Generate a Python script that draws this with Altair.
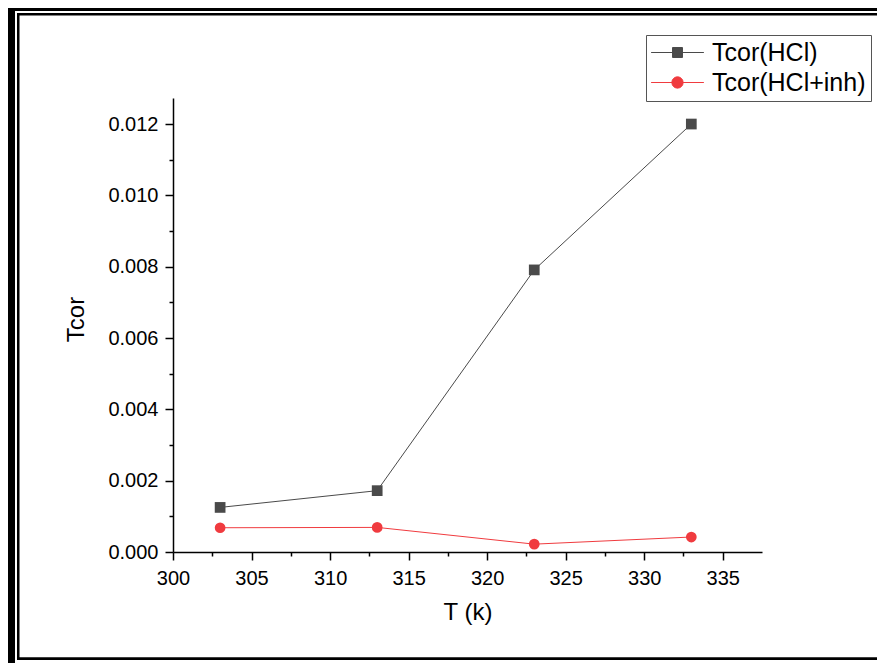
import altair as alt
import pandas as pd

# ---- data ----
temps = [303, 313, 323, 333]
tcor_hcl = [0.00125, 0.00172, 0.00791, 0.01200]
tcor_inh = [0.00068, 0.00069, 0.00022, 0.00042]
series_names = ["Tcor(HCl)", "Tcor(HCl+inh)"]
series_colors = ["#4a4a4a", "#f03b3f"]
series_shapes = ["square", "circle"]
x_tick_values = [300, 302.5, 305, 307.5, 310, 312.5, 315, 317.5, 320, 322.5,
                 325, 327.5, 330, 332.5, 335]
y_tick_values = [0.000, 0.001, 0.002, 0.003, 0.004, 0.005, 0.006, 0.007,
                 0.008, 0.009, 0.010, 0.011, 0.012]

rows = []
for t, v in zip(temps, tcor_hcl):
    rows.append({"T": t, "Tcor": v, "series": series_names[0]})
for t, v in zip(temps, tcor_inh):
    rows.append({"T": t, "Tcor": v, "series": series_names[1]})
df = pd.DataFrame(rows)

FONT = "Liberation Sans"

color_scale = alt.Scale(domain=series_names, range=series_colors)

# legend glyphs: a line through the marker (square / circle)
legend_paths = [
    "M-4.4,0H4.4M-0.83,-0.83H0.83V0.83H-0.83Z",
    "M-4.4,0H4.4M0.94,0A0.94,0.94,0,1,1,-0.94,0A0.94,0.94,0,1,1,0.94,0Z",
]
legend_shape_scale = alt.Scale(domain=series_names, range=legend_paths)

x_enc = alt.X(
    "T:Q",
    scale=alt.Scale(domain=[300, 337.5], nice=False, zero=False),
    axis=alt.Axis(
        values=x_tick_values,
        title="T (k)",
        labelExpr="datum.value % 5 === 0 ? format(datum.value, 'd') : ''",
        tickSize={"condition": {"test": "datum.value % 5 === 0", "value": 8}, "value": 4},
        labelPadding=8,
        labelFlush=False,
        labelOverlap=False,
        titleY=67,
        titleBaseline="alphabetic",
    ),
)
y_enc = alt.Y(
    "Tcor:Q",
    scale=alt.Scale(domain=[0, 0.01273], nice=False, zero=False),
    axis=alt.Axis(
        values=y_tick_values,
        title="Tcor",
        labelExpr="round(datum.value * 1000) % 2 === 0 ? format(datum.value, '.3f') : ''",
        tickSize={"condition": {"test": "round(datum.value * 1000) % 2 === 0", "value": 8}, "value": 4},
        labelPadding=7,
        labelFlush=False,
        labelOverlap=False,
        titleX=-90,
        titleY=221,
        titleBaseline="alphabetic",
    ),
)

legend = alt.Legend(
    title=None,
    orient="none",
    legendX=473,
    legendY=-63,
    labelFont=FONT,
    labelFontSize=25,
    labelColor="black",
    labelLimit=400,
    padding=5,
    strokeColor="#555555",
    fillColor="white",
    symbolSize=144,
    symbolOffset=14,
    symbolOpacity=1,
    symbolStrokeWidth=1,
    labelOffset=22,
    rowPadding=4,
)

base = alt.Chart(df)

# legend-only layer (draws nothing, carries the legend)
legend_layer = base.transform_filter("false").mark_point(
    filled=True, size=144, strokeWidth=1, opacity=1
).encode(
    x=x_enc, y=y_enc,
    color=alt.Color("series:N", scale=color_scale, legend=legend),
    stroke=alt.Stroke("series:N", scale=alt.Scale(domain=series_names, range=series_colors), legend=legend),
    shape=alt.Shape("series:N", scale=legend_shape_scale, legend=legend),
)

lines = base.mark_line(strokeWidth=1).encode(
    x=x_enc, y=y_enc,
    color=alt.Color("series:N", scale=color_scale),
)

point_layers = []
for name, shp in zip(series_names, series_shapes):
    point_layers.append(
        base.transform_filter(alt.datum.series == name)
        .mark_point(filled=True, size=115, opacity=1, shape=shp)
        .encode(
            x=x_enc, y=y_enc,
            color=alt.Color("series:N", scale=color_scale),
        )
    )


def frame_piece(x, x2, y, y2):
    return alt.Chart(alt.Data(values=[{}])).mark_rect(color="black").encode(
        x=alt.value(x), x2=alt.value(x2), y=alt.value(y), y2=alt.value(y2)
    )


frame = [
    frame_piece(-165, -158, -90, 565),   # thick left band
    frame_piece(-165, 704, -90, -87),    # thick top band
    frame_piece(-156, -153.5, -85, 562), # thin left line
    frame_piece(-156, 704, -85, -82.5),  # thin top line
    frame_piece(-156, 704, 559.3, 562),  # thin bottom line
]

chart = alt.layer(legend_layer, *frame, lines, *point_layers).properties(
    width=589,
    height=454,
    padding={"left": 165, "top": 90, "right": 115, "bottom": 111},
    autosize=alt.AutoSizeParams(type="none"),
    background="white",
).configure_view(stroke=None).configure_axis(
    grid=False,
    domainColor="black",
    domainWidth=1.5,
    tickColor="black",
    tickWidth=1.5,
    labelFont=FONT,
    labelFontSize=20,
    labelColor="black",
    titleFont=FONT,
    titleFontSize=24,
    titleFontWeight="normal",
    titleColor="black",
)

chart.save("out.html", embed_options={"renderer": "svg", "actions": False})
